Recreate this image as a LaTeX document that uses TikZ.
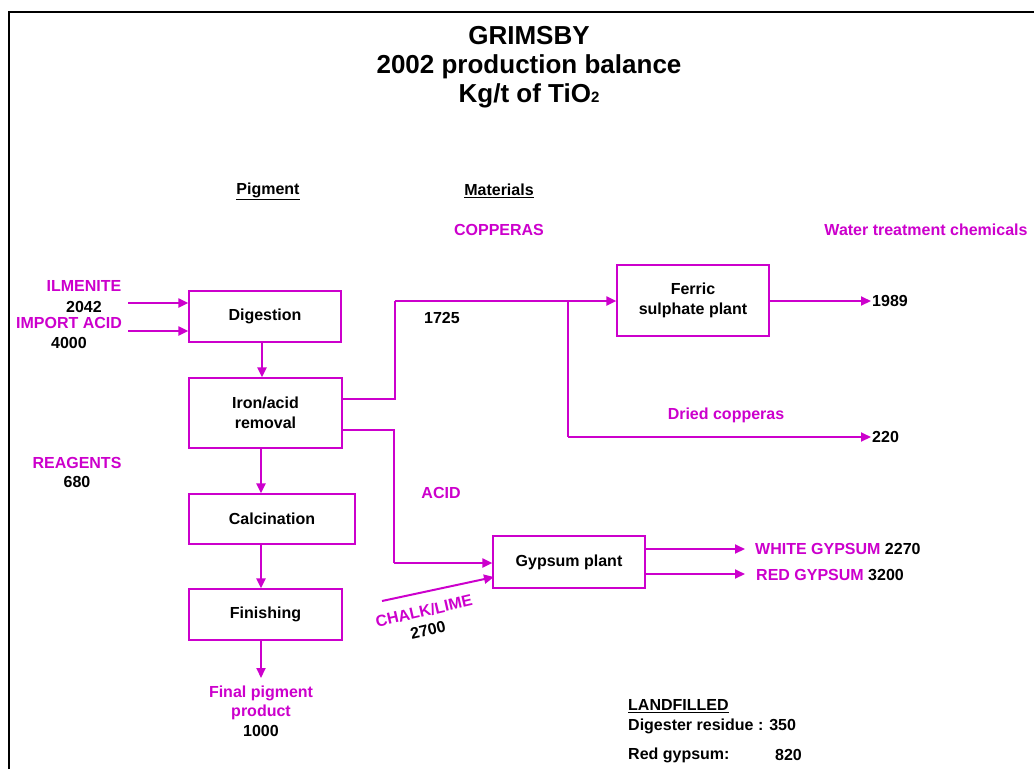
\documentclass[tikz,border=0pt]{standalone}
\usepackage{fontspec}
\setmainfont{Liberation Sans}
\usetikzlibrary{arrows.meta}
\definecolor{mag}{RGB}{204,0,204}
\begin{document}
\begin{tikzpicture}[x=1pt,y=-1pt,
  every node/.style={font=\fontsize{16}{19.5}\selectfont\bfseries, inner sep=1pt},
  box/.style={draw=mag, line width=1.2pt, align=center, inner sep=0pt},
  lbl/.style={text=mag},
  arr/.style={draw=mag, line width=2pt, -{Triangle[length=10pt,width=9pt]}},
  thin/.style={draw=mag, line width=1.2pt},
  thick/.style={draw=mag, line width=2pt}]
\useasboundingbox (0,0) rectangle (1034,769);
% frame
\draw[line width=2pt] (9,769) -- (9,12) -- (1034,12);
% title
\node[align=center, font=\fontsize{26}{29}\selectfont\bfseries] (title) at (529,67)
  {GRIMSBY\\2002 production balance\\Kg/t of TiO\raisebox{-0.5pt}{\fontsize{15}{15}\selectfont 2}};
% headings
\node (pig) at (268,191) {\underline{Pigment}};
\node (mat) at (499,191) {\underline{Materials}};
\node[lbl] (copp) at (499,230) {COPPERAS};
\node[lbl] (wtc) at (926,230) {Water treatment chemicals};
% boxes
\node[box, minimum width=152pt, minimum height=51pt] (dig) at (265,316.5) {Digestion};
\node[box, minimum width=153pt, minimum height=70pt] (iron) at (265.5,413) {Iron/acid\\removal};
\node[box, minimum width=166pt, minimum height=50pt] (calc) at (272,519) {Calcination};
\node[box, minimum width=153pt, minimum height=51pt] (fin) at (265.5,614.5) {Finishing};
\node[box, minimum width=152pt, minimum height=71pt] (ferric) at (693,300.5) {Ferric\\sulphate plant};
\node[box, minimum width=152pt, minimum height=52pt] (gyp) at (569,562) {Gypsum plant};
% left inputs
\node[lbl] (ilm) at (84,286) {ILMENITE};
\node (n2042) at (84,307) {2042};
\node[lbl] (imp) at (69,323) {IMPORT ACID};
\node (n4000) at (69,343) {4000};
\node[lbl] (reag) at (77,463) {REAGENTS};
\node (n680) at (77,482) {680};
\coordinate (ilmS) at (128,303);
\coordinate (impS) at (128,331);
\draw[arr] (ilmS) -- (ilmS -| dig.west);
\draw[arr] (impS) -- (impS -| dig.west);
% pigment chain
\coordinate (c1) at (262,0);
\coordinate (c2) at (261,0);
\draw[arr] (dig.south -| c1) -- (iron.north -| c1);
\draw[arr] (iron.south -| c2) -- (calc.north -| c2);
\draw[arr] (calc.south -| c2) -- (fin.north -| c2);
\coordinate (fpEnd) at (261,678);
\draw[arr] (fin.south -| c2) -- (fpEnd);
\node[align=center] (fp) at (261,711) {\textcolor{mag}{Final pigment}\\\textcolor{mag}{product}\\1000};
% copperas route
\coordinate (ironU) at (342,399);
\coordinate (jU) at (395,399);
\coordinate (jT) at (395,301);
\coordinate (br) at (568,301);
\coordinate (brD) at (568,437);
\coordinate (e220) at (871,437);
\draw[thin] (ironU) -- (jU) -- (jT);
\draw[arr] (jT) -- (jT -| ferric.west);
\draw[thin] (br) -- (brD);
\draw[arr] (brD) -- (e220);
\node (n1725) at (442,318) {1725};
\node[lbl] (dried) at (726,415) {Dried copperas};
\node[anchor=west] (n220) at (e220) {220};
\coordinate (e1989) at (871,301);
\draw[arr] (ferric.east |- e1989) -- (e1989);
\node[anchor=west] (n1989) at (e1989) {1989};
% acid route
\coordinate (ironL) at (342,430);
\coordinate (jL) at (394,430);
\coordinate (jLD) at (394,563);
\draw[thin] (ironL) -- (jL) -- (jLD);
\draw[arr] (jLD) -- (jLD -| gyp.west);
\node[lbl] (acid) at (441,493) {ACID};
% chalk
\coordinate (chS) at (382,601);
\coordinate (chE) at (494,577);
\draw[arr] (chS) -- (chE);
\node[lbl, rotate=13] (chalk) at (424,611) {CHALK/LIME};
\node[rotate=13] (n2700) at (428,630) {2700};
% gypsum outputs
\coordinate (wg) at (745,549);
\coordinate (rg) at (745,574);
\draw[arr] (gyp.east |- wg) -- (wg);
\draw[arr] (gyp.east |- rg) -- (rg);
\node[anchor=west] (wgl) at (754,549) {\textcolor{mag}{WHITE GYPSUM} 2270};
\node[anchor=west] (rgl) at (755,575) {\textcolor{mag}{RED GYPSUM} 3200};
% landfilled
\node[anchor=west] (land) at (627,706) {\underline{LANDFILLED}};
\node[anchor=west] (dres) at (627,726) {Digester residue : 350};
\node[anchor=west] (rgy) at (627,755) {Red gypsum:};
\node[anchor=west] (n820) at (774,755) {820};
\end{tikzpicture}
\end{document}
